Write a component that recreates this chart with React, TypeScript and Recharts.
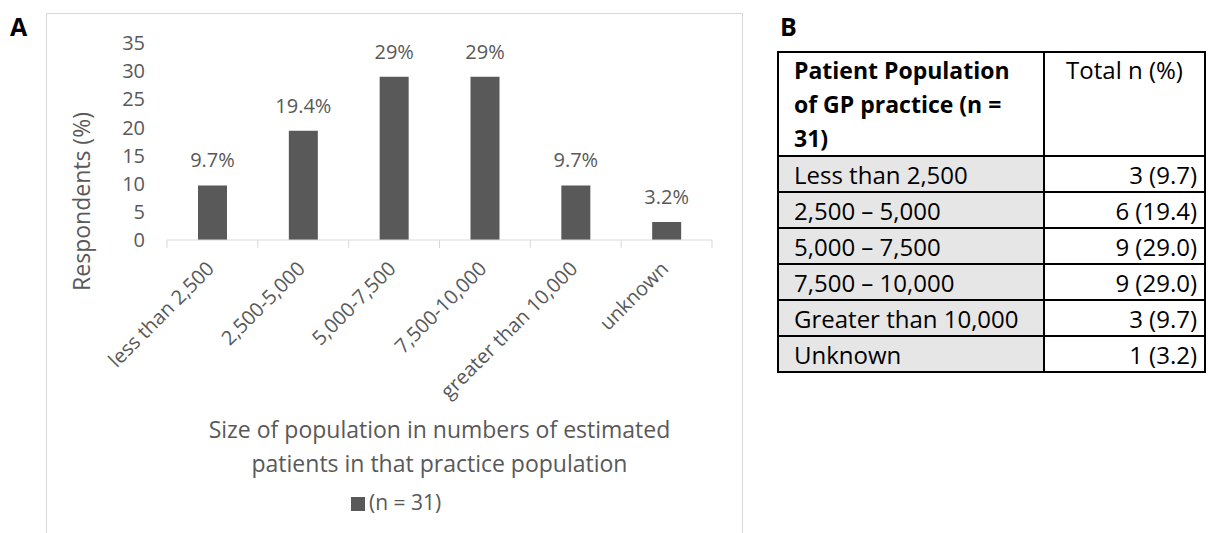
import { BarChart, Bar, XAxis, YAxis, LabelList, Legend, Label } from "recharts";

// panel A: share of respondents by practice size
const categories = [
  "less than 2,500",
  "2,500-5,000",
  "5,000-7,500",
  "7,500-10,000",
  "greater than 10,000",
  "unknown",
];
const respondentsPct = [9.7, 19.4, 29, 29, 9.7, 3.2];
const yTicks = [0, 5, 10, 15, 20, 25, 30, 35];

// panel B: table
const tableLabels = [
  "Less than 2,500",
  "2,500 \u2013 5,000",
  "5,000 \u2013 7,500",
  "7,500 \u2013 10,000",
  "Greater than 10,000",
  "Unknown",
];
const tableCounts = [3, 6, 9, 9, 3, 1];
const tablePct = ["9.7", "19.4", "29.0", "29.0", "9.7", "3.2"];

const data = categories.map((name, i) => ({ name, value: respondentsPct[i] }));

const GREY = "#595959";
const AXIS = "#d9d9d9";
const CHART_W = 760;
const CHART_H = 533;
const margin = { top: 43, right: 48, left: 0, bottom: 0 };
const Y_AXIS_W = 167;
const X_AXIS_H = 293;
const bandW =
  (CHART_W - margin.left - margin.right - Y_AXIS_W) / categories.length;

function CategoryTick(props: any) {
  const { x, y, payload } = props;
  const half = bandW / 2;
  const ax = x + 3;
  const ay = y + 30;
  const isLast = payload.value === categories[categories.length - 1];
  return (
    <g>
      <line x1={x - half} y1={y} x2={x - half} y2={y + 8} stroke={AXIS} />
      {isLast && (
        <line x1={x + half} y1={y} x2={x + half} y2={y + 8} stroke={AXIS} />
      )}
      <text
        x={ax}
        y={ay}
        transform={`rotate(-45, ${ax}, ${ay})`}
        textAnchor="end"
        fill={GREY}
        fontSize={20}
      >
        {payload.value}
      </text>
    </g>
  );
}

function XTitle(props: any) {
  const { x, y, width } = props.viewBox;
  const cx = x + width / 2;
  return (
    <text x={cx} textAnchor="middle" fill={GREY} fontSize={23}>
      <tspan x={cx} y={y + 198}>
        Size of population in numbers of estimated
      </tspan>
      <tspan x={cx} y={y + 232}>
        patients in that practice population
      </tspan>
    </text>
  );
}

function YTitle(props: any) {
  const { y, height } = props.viewBox;
  const cx = 81;
  const cy = y + height / 2 + 60;
  return (
    <text
      x={cx}
      y={cy}
      transform={`rotate(-90, ${cx}, ${cy})`}
      textAnchor="middle"
      dominantBaseline="central"
      fill={GREY}
      fontSize={23}
    >
      Respondents (%)
    </text>
  );
}

const cellBorder = "2px solid #000";

export default function App() {
  return (
    <div
      style={{
        position: "absolute",
        left: 0,
        top: 0,
        width: 1208,
        height: 533,
        overflow: "hidden",
        background: "#fff",
        fontFamily: '"Open Sans", sans-serif',
      }}
    >
      <div
        style={{
          position: "absolute",
          left: 10,
          top: 13,
          fontSize: 25,
          fontWeight: 700,
          lineHeight: "26px",
          color: "#000",
        }}
      >
        A
      </div>
      <div
        style={{
          position: "absolute",
          left: 46,
          top: 13,
          width: 695,
          height: 560,
          border: `1px solid ${AXIS}`,
        }}
      />
      <div style={{ position: "absolute", left: 0, top: 0 }}>
        <BarChart width={CHART_W} height={CHART_H} data={data} margin={margin}>
          <XAxis
            dataKey="name"
            interval={0}
            height={X_AXIS_H}
            axisLine={{ stroke: AXIS }}
            tickLine={false}
            tickSize={0}
            tickMargin={0}
            tick={<CategoryTick />}
          >
            <Label content={<XTitle />} />
          </XAxis>
          <YAxis
            domain={[0, 35]}
            ticks={yTicks}
            width={Y_AXIS_W}
            axisLine={false}
            tickLine={false}
            tickSize={0}
            tickMargin={22}
            tick={{ fill: GREY, fontSize: 20 }}
          >
            <Label content={<YTitle />} />
          </YAxis>
          <Legend
            layout="horizontal"
            verticalAlign="middle"
            align="center"
            iconType="square"
            iconSize={14}
            wrapperStyle={{ left: 351, top: 488, width: "auto", fontSize: 21 }}
            formatter={(v: any) => <span style={{ color: GREY }}>{v}</span>}
          />
          <Bar
            dataKey="value"
            name="(n = 31)"
            fill={GREY}
            barSize={29}
            isAnimationActive={false}
          >
            <LabelList
              dataKey="value"
              position="top"
              offset={18}
              formatter={(v: any) => `${v}%`}
              fill={GREY}
              fontSize={20}
            />
          </Bar>
        </BarChart>
      </div>

      <div
        style={{
          position: "absolute",
          left: 780,
          top: 13,
          fontSize: 25,
          fontWeight: 700,
          lineHeight: "26px",
          color: "#000",
        }}
      >
        B
      </div>
      <table
        style={{
          position: "absolute",
          left: 777,
          top: 51,
          width: 429,
          borderCollapse: "collapse",
          tableLayout: "fixed",
          fontSize: 24,
          color: "#000",
        }}
      >
        <colgroup>
          <col style={{ width: 266 }} />
          <col />
        </colgroup>
        <tbody>
          <tr style={{ height: 103 }}>
            <td
              style={{
                border: cellBorder,
                verticalAlign: "top",
                padding: "0 10px 0 15px",
                fontWeight: 700,
                fontSize: 23,
                lineHeight: "34px",
              }}
            >
              Patient Population of GP practice (n = 31)
            </td>
            <td
              style={{
                border: cellBorder,
                verticalAlign: "top",
                textAlign: "center",
                padding: 0,
                lineHeight: "34px",
              }}
            >
              Total n (%)
            </td>
          </tr>
          {tableLabels.map((label, i) => (
            <tr key={label} style={{ height: 36 }}>
              <td
                style={{
                  border: cellBorder,
                  background: "#e7e6e6",
                  padding: "0 0 0 15px",
                  lineHeight: "33px",
                  whiteSpace: "nowrap",
                }}
              >
                {label}
              </td>
              <td
                style={{
                  border: cellBorder,
                  textAlign: "right",
                  padding: "0 7px 0 0",
                  lineHeight: "33px",
                }}
              >
                {`${tableCounts[i]} (${tablePct[i]})`}
              </td>
            </tr>
          ))}
        </tbody>
      </table>
    </div>
  );
}
